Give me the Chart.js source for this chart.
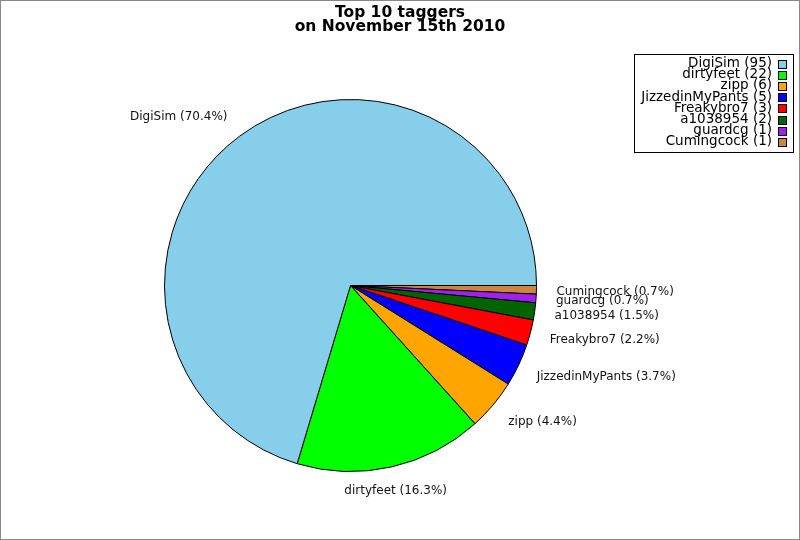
<!DOCTYPE html>
<html>
<head>
<meta charset="utf-8">
<script src="https://cdn.jsdelivr.net/npm/chart.js@4.4.0/dist/chart.umd.min.js"></script>
<style>
  html, body { margin: 0; padding: 0; background: #fff; }
  #wrap { width: 800px; height: 540px; }
</style>
</head>
<body>
<div id="wrap"><canvas id="pieChart" width="800" height="540"></canvas></div>
<script>
// Data (legend order)
const taggers = ['DigiSim', 'dirtyfeet', 'zipp', 'JizzedinMyPants', 'Freakybro7', 'a1038954', 'guardcg', 'Cumingcock'];
const tagCounts = [95, 22, 6, 5, 3, 2, 1, 1];
const sliceColors = ['#87ceeb', '#00ff00', '#ffa500', '#0000ff', '#ff0000', '#006400', '#a020f0', '#cd853f'];
const titleLines = ['Top 10 taggers', 'on November 15th 2010'];

const total = tagCounts.reduce((a, b) => a + b, 0);

// jpgraph draws counter-clockwise from 3 o'clock, chart.js clockwise,
// so feed the slices in reverse and start at 90deg
const revLabels = taggers.slice().reverse();
const revCounts = tagCounts.slice().reverse();
const revColors = sliceColors.slice().reverse();

const decorations = {
    id: 'decorations',
    beforeDraw(chart) {
        const ctx = chart.ctx;
        ctx.save();
        ctx.fillStyle = '#fff';
        ctx.fillRect(0, 0, chart.width, chart.height);
        ctx.restore();
    },
    afterDatasetsDraw(chart) {
        const ctx = chart.ctx;
        const meta = chart.getDatasetMeta(0);
        ctx.save();

        // slice labels
        ctx.font = '12px "DejaVu Sans"';
        ctx.fillStyle = '#111';
        meta.data.forEach((arc, i) => {
            const mid = (arc.startAngle + arc.endAngle) / 2;
            const c = Math.cos(mid), s = Math.sin(mid);
            const r = arc.outerRadius + 20;
            const x = arc.x + c * r;
            let y = arc.y + s * r;
            if (Math.abs(c) < 0.3) {
                ctx.textAlign = 'center';
                ctx.textBaseline = s > 0 ? 'top' : 'bottom';
                y -= 2;
            } else {
                ctx.textAlign = c > 0 ? 'left' : 'right';
                ctx.textBaseline = 'middle';
                y += 5 * s + 1;
            }
            const pct = (revCounts[i] / total * 100).toFixed(1);
            ctx.fillText(revLabels[i] + ' (' + pct + '%)', x, y);
        });

        // title
        ctx.font = 'bold 15.5px "DejaVu Sans"';
        ctx.fillStyle = '#000';
        ctx.textAlign = 'center';
        ctx.textBaseline = 'alphabetic';
        ctx.fillText(titleLines[0], 400, 17);
        ctx.fillText(titleLines[1], 400, 31);

        // legend
        const lx = 634, ly = 54, lw = 159, lh = 98;
        ctx.fillStyle = '#fff';
        ctx.fillRect(lx, ly, lw, lh);
        ctx.strokeStyle = '#000';
        ctx.lineWidth = 1;
        ctx.strokeRect(lx + 0.5, ly + 0.5, lw, lh);
        ctx.font = '13.5px "DejaVu Sans"';
        ctx.textAlign = 'right';
        ctx.textBaseline = 'middle';
        taggers.forEach((name, i) => {
            const y = 63.5 + i * 11.2;
            ctx.fillStyle = '#000';
            ctx.fillText(name + ' (' + tagCounts[i] + ')', 772, y);
            ctx.fillStyle = sliceColors[i];
            ctx.fillRect(778, Math.round(y - 4), 8, 8);
            ctx.strokeRect(778.5, Math.round(y - 4) + 0.5, 8, 8);
        });

        // outer frame
        ctx.strokeStyle = '#888';
        ctx.strokeRect(0.5, 0.5, chart.width - 1, chart.height - 1);
        ctx.restore();
    }
};

const ctx = document.getElementById('pieChart').getContext('2d');
const pieChart = new Chart(ctx, {
    type: 'pie',
    data: {
        labels: revLabels,
        datasets: [{
            data: revCounts,
            backgroundColor: revColors,
            borderColor: '#000',
            borderWidth: 1
        }]
    },
    options: {
        responsive: false,
        animation: false,
        rotation: 90,
        layout: {
            padding: { left: 164, right: 263, top: 99, bottom: 68 }
        },
        plugins: {
            legend: { display: false },
            title: { display: false },
            tooltip: { enabled: false }
        }
    },
    plugins: [decorations]
});
</script>
</body>
</html>
